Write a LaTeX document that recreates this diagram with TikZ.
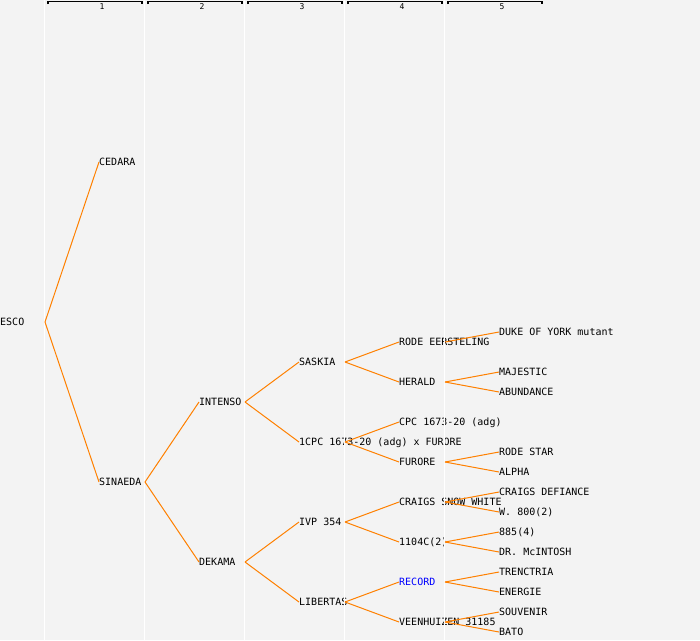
\documentclass[tikz,border=0pt]{standalone}
\usepackage{fontspec}
\setmonofont{DejaVu Sans Mono}
\usetikzlibrary{positioning, calc}

\definecolor{treeorange}{HTML}{FF8000}
\definecolor{panelgrey}{HTML}{F3F3F3}
\definecolor{recordblue}{HTML}{0000FF}

\tikzset{
    cult/.style={anchor=west, inner sep=0pt, font=\ttfamily\fontsize{10}{10}\selectfont, text height=7pt, text depth=0pt},
    gen/.style={font=\ttfamily\fontsize{8}{8}\selectfont, inner sep=0pt},
    branch/.style={draw=treeorange, line width=1pt},
}

\begin{document}
\begin{tikzpicture}[x=1pt, y=-1pt]
        \useasboundingbox[fill=panelgrey] (0,0) rectangle (700,640);

        \node[cult] (esco) at (0,322) {ESCO};
        %
        \node[cult] (cedara) at (99,162) {CEDARA};
        \node[cult] (sinaeda) at (99,482) {SINAEDA};
        %
        \node[cult] (intenso) at (199,402) {INTENSO};
        \node[cult] (dekama) at (199,562) {DEKAMA};
        %
        \node[cult] (saskia) at (299,362) {SASKIA};
        \node[cult] (cpcx) at (299,442) {1CPC 1673-20 (adg) x FURORE};
        \node[cult] (ivp) at (299,522) {IVP 354};
        \node[cult] (libertas) at (299,602) {LIBERTAS};
        %
        \node[cult] (rode) at (399,342) {RODE EERSTELING};
        \node[cult] (herald) at (399,382) {HERALD};
        \node[cult] (cpc) at (399,422) {CPC 1673-20 (adg)};
        \node[cult] (furore) at (399,462) {FURORE};
        \node[cult] (snow) at (399,502) {CRAIGS SNOW WHITE};
        \node[cult] (c1104) at (399,542) {1104C(2)};
        \node[cult, text=recordblue] (record) at (399,582) {RECORD};
        \node[cult] (veen) at (399,622) {VEENHUIZEN 31185};
        %
        \node[cult] (duke) at (499,332) {DUKE OF YORK mutant};
        \node[cult] (majestic) at (499,372) {MAJESTIC};
        \node[cult] (abundance) at (499,392) {ABUNDANCE};
        \node[cult] (rstar) at (499,452) {RODE STAR};
        \node[cult] (alpha) at (499,472) {ALPHA};
        \node[cult] (defiance) at (499,492) {CRAIGS DEFIANCE};
        \node[cult] (w800) at (499,512) {W. 800(2)};
        \node[cult] (n885) at (499,532) {885(4)};
        \node[cult] (mcintosh) at (499,552) {DR. McINTOSH};
        \node[cult] (trenctria) at (499,572) {TRENCTRIA};
        \node[cult] (energie) at (499,592) {ENERGIE};
        \node[cult] (souvenir) at (499,612) {SOUVENIR};
        \node[cult] (bato) at (499,632) {BATO};

        % generation columns
        \foreach \i in {1,...,5}{
            \draw[white, line width=1pt] ({44.5+(\i-1)*100},0) -- ({44.5+(\i-1)*100},640);
            \draw[line width=1.2pt] ({48+(\i-1)*100},4) -- ({48+(\i-1)*100},1.5) -- ({142+(\i-1)*100},1.5) -- ({142+(\i-1)*100},4);
            \node[gen] (g\i) at ({102+(\i-1)*100},6.5) {\i};
        }

        \draw[branch] ([xshift=45pt]esco.west) edge (cedara.west) edge (sinaeda.west)
              %
              ([xshift=46pt]sinaeda.west) edge (intenso.west) edge (dekama.west)
              %
              ([xshift=46pt]intenso.west) edge (saskia.west) edge (cpcx.west)
              ([xshift=46pt]dekama.west) edge (ivp.west) edge (libertas.west)
              %
              ([xshift=46pt]saskia.west) edge (rode.west) edge (herald.west)
              ([xshift=46pt]cpcx.west) edge (cpc.west) edge (furore.west)
              ([xshift=46pt]ivp.west) edge (snow.west) edge (c1104.west)
              ([xshift=46pt]libertas.west) edge (record.west) edge (veen.west)
              %
              ([xshift=46pt]rode.west) edge (duke.west)
              ([xshift=46pt]herald.west) edge (majestic.west) edge (abundance.west)
              ([xshift=46pt]furore.west) edge (rstar.west) edge (alpha.west)
              ([xshift=46pt]snow.west) edge (defiance.west) edge (w800.west)
              ([xshift=46pt]c1104.west) edge (n885.west) edge (mcintosh.west)
              ([xshift=46pt]record.west) edge (trenctria.west) edge (energie.west)
              ([xshift=46pt]veen.west) edge (souvenir.west) edge (bato.west)
        ;
\end{tikzpicture}
\end{document}
